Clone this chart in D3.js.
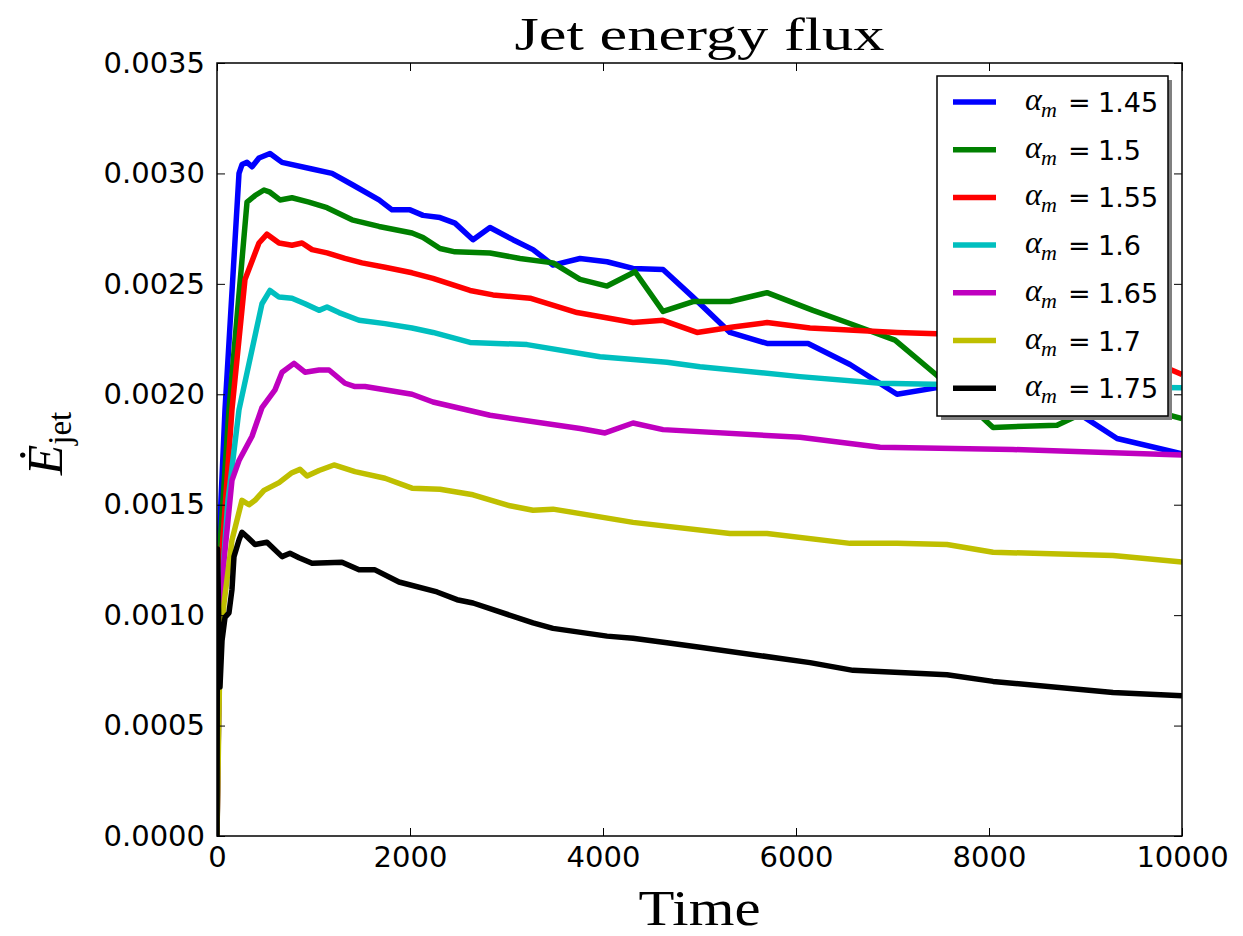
<!DOCTYPE html>
<html>
<head>
<meta charset="utf-8">
<script src="https://cdn.jsdelivr.net/npm/d3@7/dist/d3.min.js"></script>
<style>
  body { margin: 0; background: #fff; }
  .tick text { font-family: "DejaVu Sans", sans-serif; fill: #000; }
</style>
</head>
<body>
<div id="chart"></div>
<script>
// time samples and jet energy flux for each alpha_m run
const t145 = [0, 21, 83, 228, 259, 311, 363, 435, 549, 674, 985, 1192, 1399, 1679, 1814, 2000, 2135, 2311, 2466, 2653, 2829, 3067, 3275, 3482, 3762, 4042, 4311, 4622, 4933, 5316, 5700, 6125, 6560, 7047, 7462, 8114, 8736, 8974, 9327, 10000]
const e145 = [0, 0.00132, 0.00193, 0.00300, 0.00304, 0.00305, 0.00303, 0.00307, 0.00309, 0.00305, 0.00302, 0.00300, 0.00295, 0.00288, 0.002835, 0.002835, 0.00281, 0.00280, 0.002775, 0.00270, 0.002755, 0.00270, 0.002655, 0.002585, 0.002615, 0.00260, 0.00257, 0.002565, 0.00244, 0.00228, 0.00223, 0.00223, 0.002135, 0.00200, 0.00203, 0.00204, 0.00200, 0.00190, 0.00180, 0.00173]

const t150 = [0, 21, 124, 311, 394, 487, 549, 653, 777, 953, 1140, 1399, 1679, 2021, 2135, 2311, 2466, 2829, 3140, 3482, 3762, 4042, 4332, 4622, 4933, 5316, 5700, 6176, 6529, 7026, 7462, 8042, 8705, 9047, 9358, 10000]
const e150 = [0, 0.00125, 0.00193, 0.00287, 0.00290, 0.002925, 0.002915, 0.00288, 0.00289, 0.00287, 0.002845, 0.00279, 0.00276, 0.00273, 0.00271, 0.00266, 0.002645, 0.00264, 0.002615, 0.002595, 0.00252, 0.00249, 0.002555, 0.002375, 0.00242, 0.00242, 0.00246, 0.00238, 0.002325, 0.002245, 0.002085, 0.00185, 0.00186, 0.00193, 0.001965, 0.00189]

const t155 = [0, 31, 155, 290, 435, 518, 643, 777, 881, 985, 1140, 1326, 1503, 1741, 2021, 2238, 2622, 2860, 3244, 3731, 4311, 4622, 4974, 5347, 5700, 6145, 7047, 8114, 9461, 10000]
const e155 = [0, 0.00116, 0.00193, 0.00252, 0.002685, 0.002725, 0.002685, 0.002675, 0.002685, 0.002655, 0.00264, 0.002615, 0.002595, 0.002575, 0.00255, 0.002525, 0.00247, 0.00245, 0.002435, 0.00237, 0.002325, 0.002335, 0.00228, 0.002305, 0.002325, 0.00230, 0.00228, 0.002265, 0.00219, 0.00209]

const t160 = [0, 31, 114, 228, 466, 549, 643, 777, 912, 1057, 1140, 1264, 1472, 1741, 2021, 2238, 2622, 3213, 3969, 4663, 5005, 6042, 6871, 8114, 10000]
const e160 = [0, 0.00102, 0.00152, 0.00193, 0.00241, 0.00247, 0.00244, 0.002435, 0.00241, 0.00238, 0.002395, 0.00237, 0.002335, 0.00232, 0.00230, 0.00228, 0.002235, 0.002225, 0.00217, 0.002145, 0.002125, 0.00208, 0.00205, 0.00204, 0.00203]

const t165 = [0, 31, 73, 155, 228, 363, 466, 601, 674, 798, 912, 1057, 1161, 1326, 1430, 1534, 2021, 2238, 2829, 3762, 4021, 4311, 4622, 6042, 6871, 8249, 9285, 10000]
const e165 = [0, 0.00098, 0.00125, 0.00161, 0.00170, 0.00181, 0.00194, 0.00202, 0.00210, 0.00214, 0.00210, 0.00211, 0.00211, 0.00205, 0.002035, 0.002035, 0.00200, 0.001965, 0.001905, 0.001845, 0.001825, 0.00187, 0.00184, 0.001805, 0.00176, 0.00175, 0.001735, 0.001725]

const t170 = [0, 31, 73, 155, 259, 332, 394, 487, 643, 777, 860, 933, 1057, 1212, 1430, 1741, 2021, 2311, 2653, 3036, 3275, 3482, 4311, 5316, 5700, 6560, 7047, 7565, 8042, 9285, 10000]
const e170 = [0, 0.00084, 0.001055, 0.00134, 0.00152, 0.00150, 0.00152, 0.001565, 0.00160, 0.001645, 0.00166, 0.00163, 0.001655, 0.00168, 0.00165, 0.00162, 0.001575, 0.00157, 0.001545, 0.001495, 0.001475, 0.00148, 0.00142, 0.00137, 0.00137, 0.001325, 0.001325, 0.00132, 0.001285, 0.00127, 0.00124]

const t175 = [0, 5, 31, 52, 83, 124, 155, 176, 228, 259, 311, 394, 518, 674, 756, 850, 985, 1295, 1472, 1637, 1886, 2280, 2487, 2653, 3275, 3482, 4042, 4311, 4663, 5005, 6145, 6591, 7565, 8042, 9285, 10000]
const e175 = [0, 0.00130, 0.000675, 0.000885, 0.00099, 0.00101, 0.001115, 0.001265, 0.00134, 0.001375, 0.001355, 0.00132, 0.00133, 0.001265, 0.00128, 0.00126, 0.001235, 0.00124, 0.001205, 0.001205, 0.00115, 0.001105, 0.00107, 0.001055, 0.000965, 0.00094, 0.000905, 0.000895, 0.000875, 0.000855, 0.000785, 0.00075, 0.00073, 0.00070, 0.00065, 0.000635]

const alphas = ["1.45", "1.5", "1.55", "1.6", "1.65", "1.7", "1.75"]
const colors = ["#0000ff", "#008000", "#ff0000", "#00bfbf", "#bf00bf", "#bfbf00", "#000000"]
const times = [t145, t150, t155, t160, t165, t170, t175]
const fluxes = [e145, e150, e155, e160, e165, e170, e175]

const xTicks = [0, 2000, 4000, 6000, 8000, 10000]
const yTicks = [0, 0.0005, 0.001, 0.0015, 0.002, 0.0025, 0.003, 0.0035]

const width = 1243
const height = 936
const margin = {top: 63, right: 61, bottom: 100, left: 217}
const innerW = width - margin.left - margin.right
const innerH = height - margin.top - margin.bottom

const svg = d3.select("#chart")
    .append("svg")
    .attr("width", width)
    .attr("height", height)

const x = d3.scaleLinear().domain([0, 10000]).range([margin.left, margin.left + innerW])
const y = d3.scaleLinear().domain([0, 0.0035]).range([margin.top + innerH, margin.top])

svg.append("clipPath")
    .attr("id", "plot-clip")
    .append("rect")
    .attr("x", margin.left)
    .attr("y", margin.top)
    .attr("width", innerW)
    .attr("height", innerH)

const layer_lines = svg.append("g").attr("clip-path", "url(#plot-clip)")

const line = d3.line()
    .x(d => x(d[0]))
    .y(d => y(d[1]))

times.forEach((ts, i) => {
    const pts = ts.map((t, j) => [t, fluxes[i][j]])
    layer_lines.append("path")
        .datum(pts)
        .attr("d", line)
        .attr("fill", "none")
        .attr("stroke", colors[i])
        .attr("stroke-width", 5.5)
        .attr("stroke-linejoin", "round")
})

// axes: ticks point inward on all four sides
const tickFont = 29
const xAxis = svg.append("g")
    .attr("transform", `translate(0,${margin.top + innerH})`)
    .call(d3.axisBottom(x).tickValues(xTicks).tickFormat(d3.format("d"))
        .tickSizeInner(-8).tickSizeOuter(0).tickPadding(10))
xAxis.selectAll("text").style("font-size", tickFont + "px")

const yAxis = svg.append("g")
    .attr("transform", `translate(${margin.left},0)`)
    .call(d3.axisLeft(y).tickValues(yTicks).tickFormat(d3.format(".4f"))
        .tickSizeInner(-8).tickSizeOuter(0).tickPadding(12))
yAxis.selectAll("text").style("font-size", tickFont + "px")

svg.append("g")
    .attr("transform", `translate(0,${margin.top})`)
    .call(d3.axisTop(x).tickValues(xTicks).tickFormat("").tickSizeInner(-8).tickSizeOuter(0))
svg.append("g")
    .attr("transform", `translate(${margin.left + innerW},0)`)
    .call(d3.axisRight(y).tickValues(yTicks).tickFormat("").tickSizeInner(-8).tickSizeOuter(0))

svg.selectAll(".domain").remove()
svg.selectAll(".tick line").attr("stroke", "#000").attr("stroke-width", 1)

svg.append("rect")
    .attr("x", margin.left)
    .attr("y", margin.top)
    .attr("width", innerW)
    .attr("height", innerH)
    .attr("fill", "none")
    .attr("stroke", "#000")
    .attr("stroke-width", 1.5)

// titles
svg.append("text")
    .attr("x", margin.left + innerW / 2)
    .attr("y", 50)
    .attr("text-anchor", "middle")
    .style("font-family", "'Liberation Serif', serif")
    .style("font-size", "46px")
    .attr("textLength", 370)
    .attr("lengthAdjust", "spacingAndGlyphs")
    .text("Jet energy flux")

svg.append("text")
    .attr("x", margin.left + innerW / 2)
    .attr("y", 925)
    .attr("text-anchor", "middle")
    .style("font-family", "'Liberation Serif', serif")
    .style("font-size", "50px")
    .attr("textLength", 122)
    .attr("lengthAdjust", "spacingAndGlyphs")
    .text("Time")

const ylab = svg.append("text")
    .attr("transform", `translate(62,${margin.top + innerH / 2 - 6}) rotate(-90)`)
    .attr("text-anchor", "middle")
    .style("font-family", "'Liberation Serif', serif")
ylab.append("tspan").style("font-style", "italic").style("font-size", "50px").text("Ė")
ylab.append("tspan").attr("dy", 9).style("font-size", "33px").text("jet")

// legend
const lg = {x: 937, y: 76, w: 231, h: 340, row: 47.7}
const legend = svg.append("g")
legend.append("rect")
    .attr("x", lg.x + 4).attr("y", lg.y + 4).attr("width", lg.w).attr("height", lg.h)
    .attr("fill", "#808080")
legend.append("rect")
    .attr("x", lg.x).attr("y", lg.y).attr("width", lg.w).attr("height", lg.h)
    .attr("fill", "#fff").attr("stroke", "#000").attr("stroke-width", 1.5)

alphas.forEach((a, i) => {
    const cy = lg.y + 26 + i * lg.row
    const row = legend.append("g")
    row.append("line")
        .attr("x1", lg.x + 16).attr("x2", lg.x + 59)
        .attr("y1", cy).attr("y2", cy)
        .attr("stroke", colors[i]).attr("stroke-width", 5.5)
    row.append("text")
        .attr("x", lg.x + 88).attr("y", cy + 8)
        .style("font-family", "'Liberation Serif', serif")
        .style("font-style", "italic").style("font-size", "32px")
        .text("α")
    row.append("text")
        .attr("x", lg.x + 104).attr("y", cy + 15)
        .style("font-family", "'Liberation Serif', serif")
        .style("font-style", "italic").style("font-size", "22px")
        .text("m")
    row.append("text")
        .attr("x", lg.x + 131).attr("y", cy + 10)
        .style("font-family", "'DejaVu Sans', sans-serif").style("font-size", "27px")
        .text("=")
    row.append("text")
        .attr("x", lg.x + 161).attr("y", cy + 10)
        .style("font-family", "'DejaVu Sans', sans-serif").style("font-size", "27px")
        .text(a)
})
</script>
</body>
</html>
